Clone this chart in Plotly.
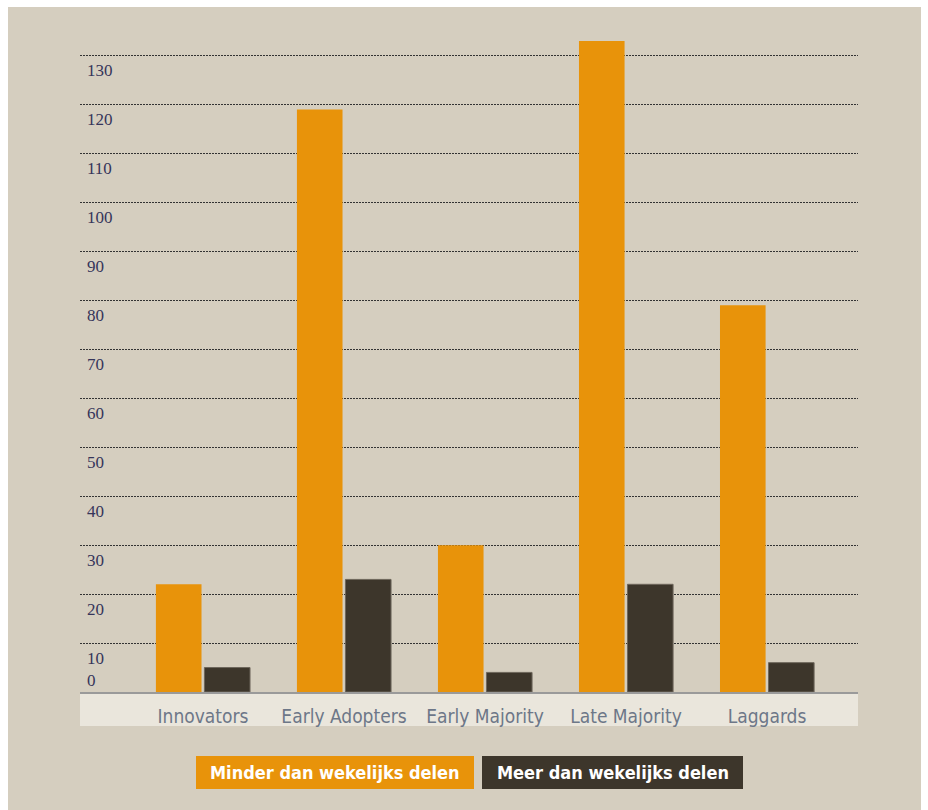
import plotly.graph_objects as go

# Adopter categories and sharing frequency counts
categories = ["Innovators", "Early Adopters", "Early Majority", "Late Majority", "Laggards"]
series_names = ["Minder dan wekelijks delen", "Meer dan wekelijks delen"]
minder_dan_wekelijks = [22, 119, 30, 133, 79]
meer_dan_wekelijks = [5, 23, 4, 22, 6]
y_tick_values = [0, 10, 20, 30, 40, 50, 60, 70, 80, 90, 100, 110, 120, 130]
y_tick_labels = [str(v) for v in y_tick_values]

ORANGE = "#e8930a"
DARK = "#3d362b"
BEIGE = "#d5cebf"
NARROW = "Liberation Sans Narrow, DejaVu Sans Condensed, Roboto, sans-serif"

W, H = 928, 810
L, R, T, B = 80, 70, 20, 118
plot_w = W - L - R
plot_h = H - T - B
y_top = plot_h / 4.895


def px_to_paper_x(px):
    return (px - L) / plot_w


def px_to_paper_y(py):
    return (H - B - py) / plot_h


fig = go.Figure()
fig.add_trace(go.Bar(
    x=categories, y=minder_dan_wekelijks, name=series_names[0],
    marker=dict(color=ORANGE, line=dict(width=0)),
))
fig.add_trace(go.Bar(
    x=categories, y=meer_dan_wekelijks, name=series_names[1],
    marker=dict(color=DARK, line=dict(width=1, color="#6e675c")),
))

shapes = [
    # card background
    dict(type="rect", xref="paper", yref="paper",
         x0=px_to_paper_x(8), x1=px_to_paper_x(921),
         y0=px_to_paper_y(812), y1=px_to_paper_y(7),
         fillcolor=BEIGE, line=dict(width=0), layer="below"),
    # light band behind the category labels
    dict(type="rect", xref="paper", yref="paper",
         x0=0, x1=1, y0=px_to_paper_y(726), y1=0,
         fillcolor="rgba(240,237,230,0.75)", line=dict(width=0), layer="below"),
]

annotations = []
for v, lab in zip(y_tick_values, y_tick_labels):
    annotations.append(dict(
        x=px_to_paper_x(85), xref="paper", y=v, yref="y",
        text=lab, showarrow=False, xanchor="left", yanchor="middle",
        yshift=12 if v == 0 else -15,
        font=dict(family="Liberation Serif, Times New Roman, serif", size=17, color="#35355a"),
    ))

# legend: coloured boxes with the series name inside
legend_boxes = [
    (series_names[0], ORANGE, 196, 474),
    (series_names[1], DARK, 482, 743),
]
for name, col, x0, x1 in legend_boxes:
    shapes.append(dict(
        type="rect", xref="paper", yref="paper",
        x0=px_to_paper_x(x0), x1=px_to_paper_x(x1),
        y0=px_to_paper_y(789), y1=px_to_paper_y(756),
        fillcolor=col, line=dict(width=0), layer="above",
    ))
    annotations.append(dict(
        x=px_to_paper_x((x0 + x1) / 2), xref="paper", y=px_to_paper_y(772.5), yref="paper",
        text="<b>" + name + "</b>", showarrow=False, xanchor="center", yanchor="middle",
        font=dict(family=NARROW, size=18, color="white"),
    ))

fig.update_layout(
    width=W, height=H,
    margin=dict(l=L, r=R, t=T, b=B, autoexpand=False),
    paper_bgcolor="white",
    plot_bgcolor="rgba(0,0,0,0)",
    barmode="group",
    bargap=0.312,
    bargroupgap=0.06,
    showlegend=False,
    shapes=shapes,
    annotations=annotations,
    xaxis=dict(
        range=[-0.872, 4.645],
        showline=True, linecolor="#9a9a9a", linewidth=2,
        ticks="", ticklabelstandoff=6,
        tickfont=dict(family=NARROW, size=19, color="#6d7788"),
        showgrid=False, fixedrange=True,
    ),
    yaxis=dict(
        range=[0, y_top],
        tickvals=y_tick_values[1:],
        showticklabels=False,
        showgrid=True, gridcolor="#333333", gridwidth=1.2, griddash="1.5px,1.5px",
        zeroline=False, showline=False, fixedrange=True,
    ),
)

fig.write_html("out.html")
